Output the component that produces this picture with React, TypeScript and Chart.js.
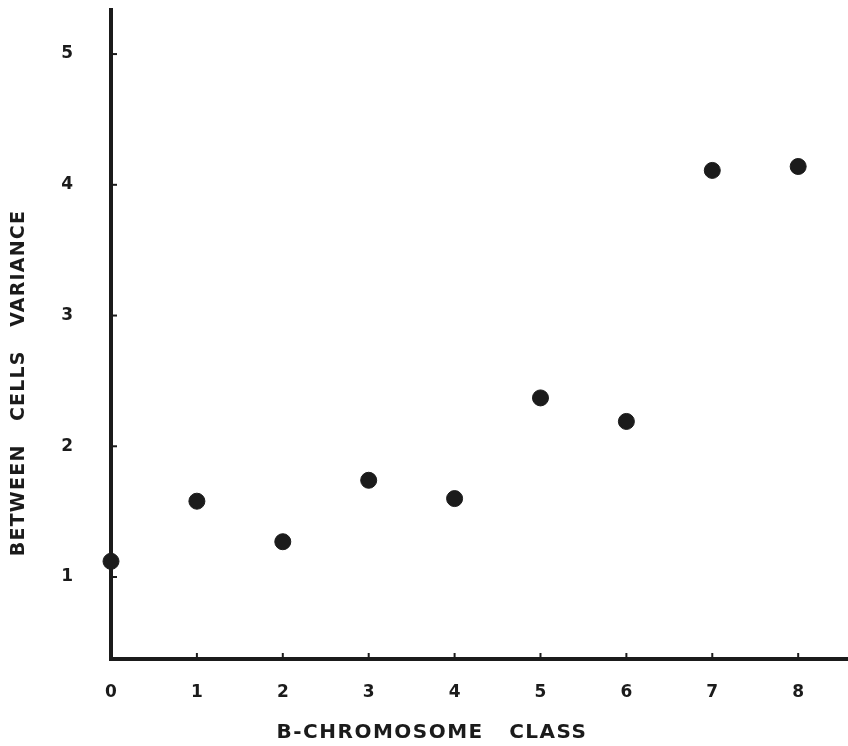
import React, { useEffect, useRef } from "react";
import { Chart, registerables } from "chart.js";

Chart.register(...registerables);

// ---- data ----
const classes = [0, 1, 2, 3, 4, 5, 6, 7, 8];
const variance = [1.12, 1.58, 1.27, 1.74, 1.6, 2.37, 2.19, 4.11, 4.14];
const xTicks = [0, 1, 2, 3, 4, 5, 6, 7, 8];
const yTicks = [1, 2, 3, 4, 5];
const xTitle = "B-CHROMOSOME   CLASS";
const yTitle = "BETWEEN   CELLS   VARIANCE";

const ink = "#1b1b1b";
const FONT = '"DejaVu Sans", sans-serif';

const axisDecor = {
  id: "axisDecor",
  afterDraw(chart: any) {
    const { ctx, chartArea, scales } = chart;
    const x = scales.x;
    const y = scales.y;
    ctx.save();
    ctx.strokeStyle = ink;
    ctx.lineWidth = 2;
    yTicks.forEach((v) => {
      const py = y.getPixelForValue(v);
      ctx.beginPath();
      ctx.moveTo(chartArea.left, py);
      ctx.lineTo(chartArea.left + 6, py);
      ctx.stroke();
    });
    xTicks.forEach((v) => {
      if (v === 0) return;
      const px = x.getPixelForValue(v);
      ctx.beginPath();
      ctx.moveTo(px, chartArea.bottom);
      ctx.lineTo(px, chartArea.bottom - 6);
      ctx.stroke();
    });
    ctx.fillStyle = ink;
    ctx.textAlign = "center";
    ctx.textBaseline = "middle";
    ctx.font = `bold 20px ${FONT}`;
    (ctx as any).letterSpacing = "1.5px";
    ctx.fillText(xTitle, 432, 733);
    ctx.translate(19, 383);
    ctx.rotate(-Math.PI / 2);
    ctx.font = `bold 19px ${FONT}`;
    (ctx as any).letterSpacing = "1.2px";
    ctx.fillText(yTitle, 0, 0);
    ctx.restore();
  },
};

const noPad = (s: any) => {
  s.paddingTop = 0;
  s.paddingBottom = 0;
  s.paddingLeft = 0;
  s.paddingRight = 0;
};

export default function App() {
  const ref = useRef<HTMLCanvasElement | null>(null);
  useEffect(() => {
    if (!ref.current) return;
    const chart = new Chart(ref.current, {
      type: "scatter",
      data: {
        datasets: [
          {
            data: classes.map((c, i) => ({ x: c, y: variance[i] })),
            backgroundColor: ink,
            borderColor: ink,
            borderWidth: 1,
            pointRadius: 8,
            pointHoverRadius: 8,
            clip: false,
          } as any,
        ],
      },
      plugins: [axisDecor],
      options: {
        responsive: false,
        animation: false,
        events: [],
        layout: { autoPadding: false, padding: { top: 10, right: 0, left: 0, bottom: 0 } },
        plugins: {
          legend: { display: false },
          tooltip: { enabled: false },
          title: { display: false },
        },
        scales: {
          x: {
            type: "linear",
            min: 0,
            max: 8.58,
            afterFit: (s: any) => {
              s.height = 87;
              noPad(s);
            },
            afterBuildTicks: (s: any) => {
              s.ticks = xTicks.map((v) => ({ value: v }));
            },
            grid: { display: true, drawOnChartArea: false, drawTicks: false, color: "rgba(0,0,0,0)" },
            border: { display: true, color: ink, width: 4 },
            ticks: {
              color: ink,
              padding: 23,
              font: { family: FONT, size: 17, weight: "bold" },
              callback: (v: any) => String(v),
            },
          },
          y: {
            type: "linear",
            min: 0.373,
            max: 5.337,
            afterFit: (s: any) => {
              s.width = 111;
              noPad(s);
            },
            afterBuildTicks: (s: any) => {
              s.ticks = yTicks.map((v) => ({ value: v }));
            },
            grid: { display: true, drawOnChartArea: false, drawTicks: false, color: "rgba(0,0,0,0)" },
            border: { display: true, color: ink, width: 4 },
            ticks: {
              color: ink,
              padding: 38,
              font: { family: FONT, size: 17, weight: "bold" },
              callback: (v: any) => String(v),
            },
          },
        },
      },
    });
    return () => chart.destroy();
  }, []);
  return (
    <div style={{ position: "fixed", left: 0, top: 0, width: 848, height: 746, background: "#fff" }}>
      <canvas ref={ref} width={848} height={746} style={{ display: "block" }} />
    </div>
  );
}
